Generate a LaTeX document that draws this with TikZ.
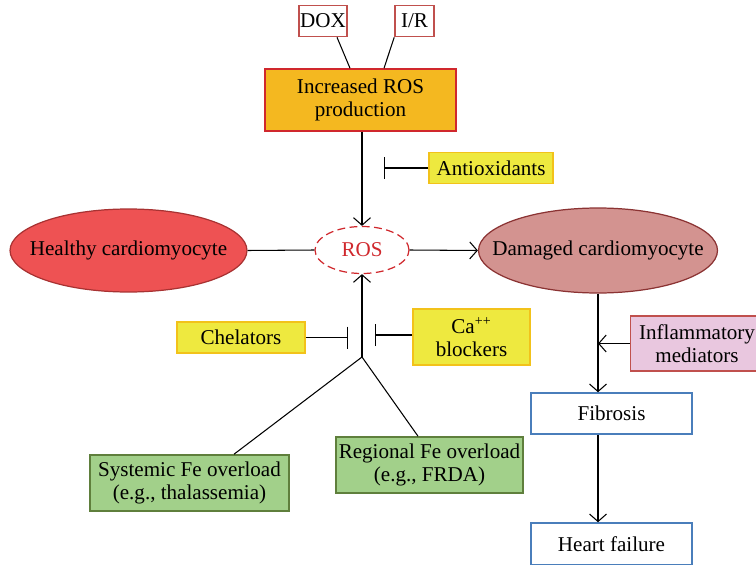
\documentclass[tikz,border=0pt]{standalone}
\usepackage{fontspec}
\setmainfont{Liberation Serif}
\usetikzlibrary{calc,arrows.meta,shapes.geometric}

\definecolor{prodfill}{HTML}{F4B820}
\definecolor{redline}{HTML}{D0282D}
\definecolor{boxred}{HTML}{C0504D}
\definecolor{yelfill}{HTML}{EEE93F}
\definecolor{yelline}{HTML}{F2C21A}
\definecolor{healthyfill}{HTML}{EE5253}
\definecolor{healthyline}{HTML}{A83232}
\definecolor{damfill}{HTML}{D39390}
\definecolor{damline}{HTML}{8B3333}
\definecolor{grnfill}{HTML}{A2D08A}
\definecolor{grnline}{HTML}{5F7F3C}
\definecolor{pinkfill}{HTML}{E9C7DF}
\definecolor{blueline}{HTML}{4A7EBB}

\tikzset{
  every node/.style={font=\fontsize{12}{13.2}\selectfont, inner sep=0pt, align=center},
  causebox/.style={draw=boxred, fill=white, line width=0.9pt},
  prodbox/.style={draw=redline, fill=prodfill, line width=0.9pt},
  drugbox/.style={draw=yelline, fill=yelfill, line width=0.9pt},
  febox/.style={draw=grnline, fill=grnfill, line width=0.9pt},
  inflbox/.style={draw=boxred, fill=pinkfill, line width=0.9pt},
  outbox/.style={draw=blueline, fill=white, line width=0.9pt},
  cell/.style={ellipse, line width=0.7pt},
  arr/.style={-{Straight Barb[length=1.5mm,width=3.4mm]}, line width=0.6pt},
  inh/.style={-{Bar[width=4.4mm]}, line width=0.6pt},
  plain/.style={line width=0.6pt}
}

\begin{document}
\begin{tikzpicture}[x=0.02cm, y=-0.02cm]
		%%%%% START %%%%%
		\useasboundingbox (0, 0) rectangle (756, 564);
		
		\node[causebox, minimum width=0.96cm, minimum height=0.62cm] (dox) at (323, 21) {DOX};
		\node[causebox, minimum width=0.78cm, minimum height=0.62cm] (ir) at (414.5, 21) {I/R};
		\node[prodbox, minimum width=3.82cm, minimum height=1.24cm] (prod) at (360.5, 100) {Increased ROS\\production};
		
		\node[drugbox, minimum width=2.48cm, minimum height=0.62cm] (anti) at (491, 168) {Antioxidants};
		
		\node[cell, draw=redline, dash pattern=on 4.5pt off 2.5pt, fill=white, minimum width=1.88cm, minimum height=0.94cm, text=redline] (ros) at (362, 250) {\makebox[0pt]{ROS}};
		\node[cell, draw=healthyline, fill=healthyfill, minimum width=4.74cm, minimum height=1.66cm] (healthy) at (128.5, 250.5) {\makebox[0pt]{Healthy cardiomyocyte}};
		\node[cell, draw=damline, fill=damfill, minimum width=4.78cm, minimum height=1.70cm] (dam) at (598, 250.5) {\makebox[0pt]{Damaged cardiomyocyte}};
		
		\node[drugbox, minimum width=2.56cm, minimum height=0.62cm] (chel) at (241, 337.5) {Chelators};
		\node[drugbox, minimum width=2.34cm, minimum height=1.12cm] (ca) at (471.5, 337) {Ca\textsuperscript{++}\\blockers};
		
		\node[febox, minimum width=3.98cm, minimum height=1.12cm] (sys) at (189.5, 483) {Systemic Fe overload\\(e.g., thalassemia)};
		\node[febox, minimum width=3.74cm, minimum height=1.12cm] (reg) at (429.5, 465) {Regional Fe overload\\(e.g., FRDA)};
		
		\node[inflbox, minimum width=2.66cm, minimum height=1.10cm] (infl) at (697, 343.5) {Inflammatory\\mediators};
		\node[outbox, minimum width=3.22cm, minimum height=0.82cm] (fib) at (611.5, 413.5) {Fibrosis};
		\node[outbox, minimum width=3.22cm, minimum height=0.84cm] (hf) at (611.5, 544) {Heart failure};
		
		\coordinate (antibar) at (384, 168);
		\coordinate (chelbar) at (348, 337.5);
		\coordinate (cabar) at (375, 335);
		\coordinate (fe) at (362, 357);
		
		\draw[plain] ($(dox.south)+(14, 0)$) -- ($(prod.north)+(-10.5, 0)$);
		\draw[plain] (ir.south west) -- ($(prod.north)+(23.5, 0)$);
		\draw[arr] (prod.south -| ros.north) -- (ros.north);
		\draw[inh] (anti.west) -- (antibar);
		
		\draw[plain] (healthy.east) -- (ros.west);
		\draw[arr] (ros.east) -- (dam.west);
		
		\draw[arr] (fe) -- (ros.south);
		\draw[inh] (chel.east) -- (chelbar);
		\draw[inh] (ca.west |- cabar) -- (cabar);
		\draw[plain] (fe) -- ($(sys.north)+(44.5, 0)$);
		\draw[plain] (fe) -- ($(reg.north)+(-11.5, 0)$);
		
		\draw[arr] (dam.south) -- (dam.south |- fib.north);
		\draw[arr] (infl.west) -- (infl.west -| dam.south);
		\draw[arr] (fib.south -| dam.south) -- (hf.north -| dam.south);
		
		%%%%% END %%%%%
	\end{tikzpicture}
\end{document}
